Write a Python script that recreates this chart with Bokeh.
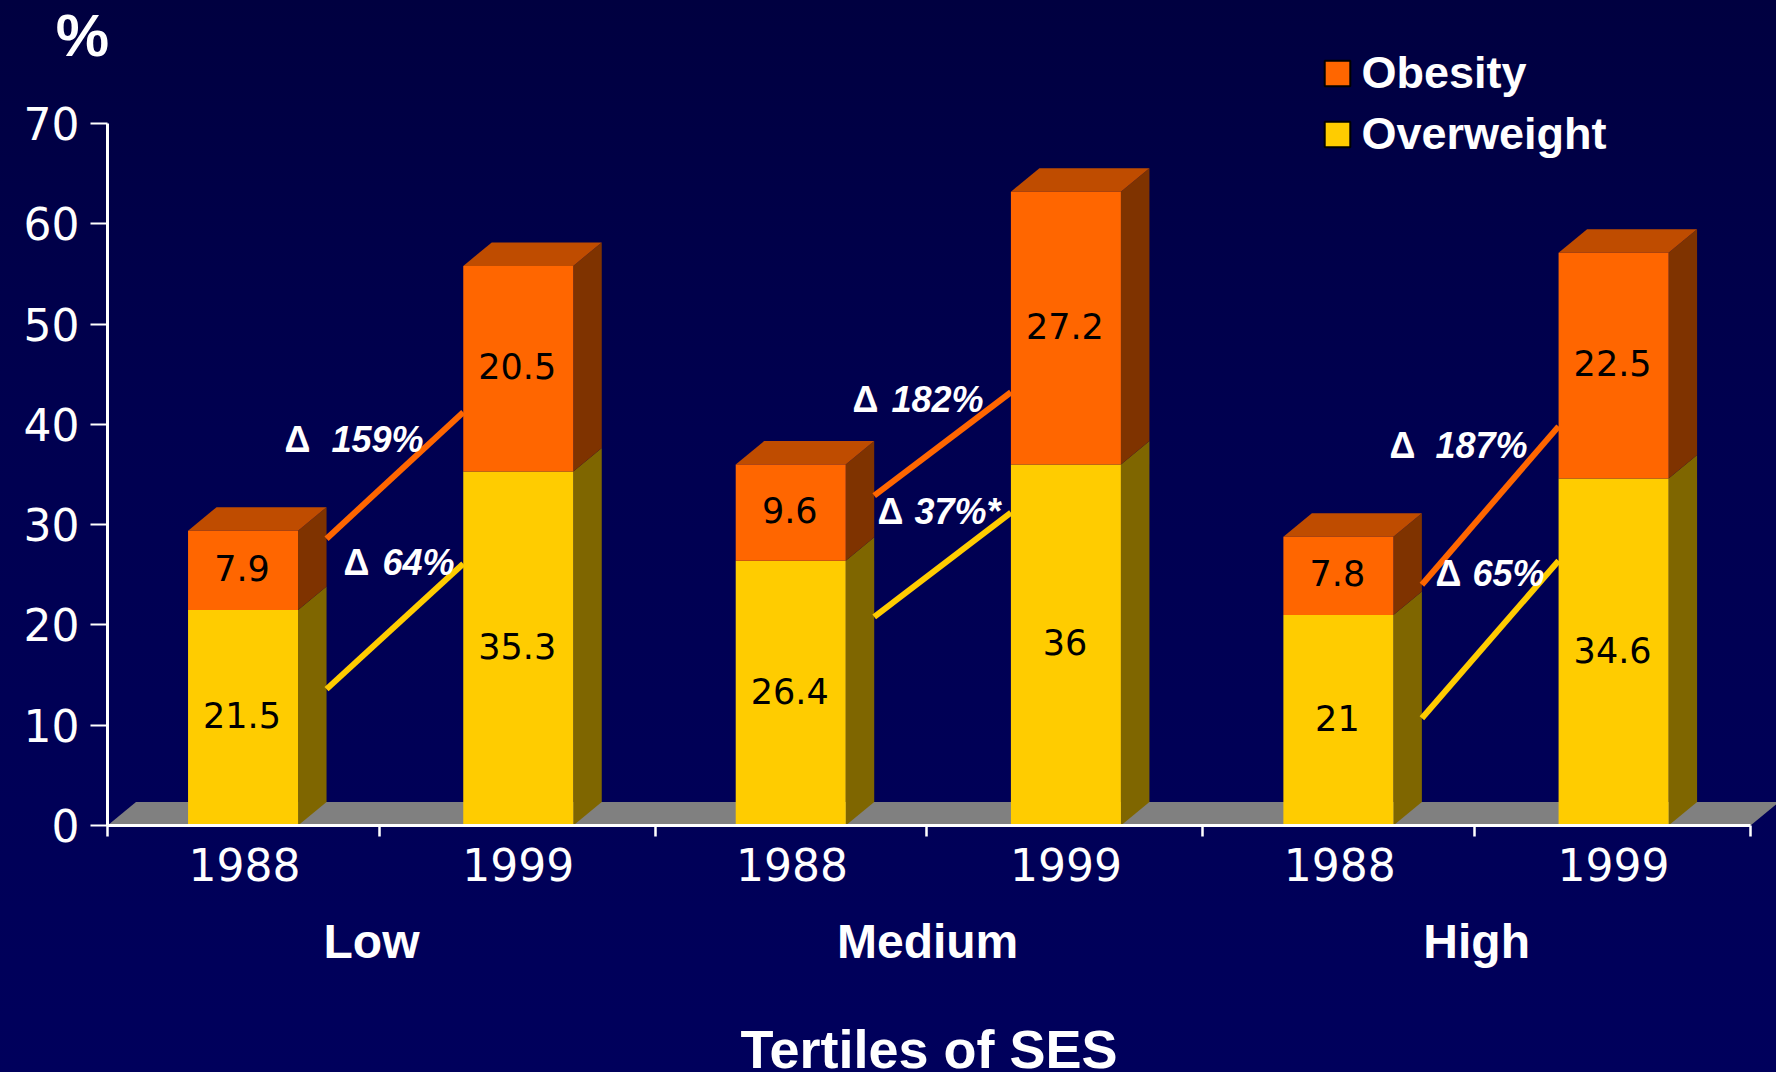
from bokeh.embed import file_html
from bokeh.resources import INLINE
from bokeh.plotting import figure
from bokeh.core.properties import value
from bokeh.models import (Range1d, FixedTicker, Legend, LegendItem, GlobalInlineStyleSheet)

# ---------- data ----------
groups = ["Low", "Medium", "High"]
years = ["1988", "1999", "1988", "1999", "1988", "1999"]
overweight = [21.5, 35.3, 26.4, 36, 21, 34.6]
obesity = [7.9, 20.5, 9.6, 27.2, 7.8, 22.5]
obesity_line_start = [28.6, 32.9, 24.0]
obesity_line_end = [41.2, 43.2, 39.8]
overweight_line_start = [13.6, 20.8, 10.7]
overweight_line_end = [26.1, 31.2, 26.4]
delta_labels = ["159%", "64%", "182%", "37%*", "187%", "65%"]
y_ticks = [0, 10, 20, 30, 40, 50, 60, 70]

# ---------- layout ----------
W, H = 1776, 1072
X0, X6, Y0, Y70 = 107.0, 1750.0, 825.0, 123.0
ux = (X6 - X0) / 6
uy = (Y0 - Y70) / 70
def dx(px): return (px - X0) / ux
def dy(px): return (Y0 - px) / uy

BAR_W = 110 / ux
DEP_X = 28.5 / ux
DEP_Y = 23.5 / uy
ORANGE, ORANGE_SIDE, ORANGE_TOP = "#FF6600", "#7F3300", "#BF4C00"
YELLOW, YELLOW_SIDE = "#FFCC00", "#7F6600"
BG = "linear-gradient(180deg,#000040 0%,#000050 40%,#00005C 100%)"
FONT = "Liberation Sans"
TICK_FONT = "DejaVu Sans"

css = GlobalInlineStyleSheet(css="html,body{margin:0!important;padding:0;background:%s;overflow:hidden}" % BG)

p = figure(width=W, height=H, output_backend="svg", toolbar_location=None,
           x_range=Range1d(dx(0), dx(W)), y_range=Range1d(dy(H), dy(0)),
           min_border=0, min_border_left=0, min_border_right=0, min_border_top=0, min_border_bottom=0)
p.stylesheets = [css]
p.background_fill_color = None
p.border_fill_color = None
p.outline_line_color = None
p.grid.visible = False

centers = [0.495, 1.5, 2.495, 3.5, 4.495, 5.5]
label_ticks = [i + 0.5 for i in range(6)]
divider_ticks = [0, 0.992, 2, 2.992, 4, 4.992, 6]

# floor
p.patch([0, DEP_X, 6 + DEP_X, 6], [0, DEP_Y, DEP_Y, 0], color="#808080", line_width=0)

# 3D bars
left = [c - BAR_W / 2 for c in centers]
right = [c + BAR_W / 2 for c in centers]
tops = [a + b for a, b in zip(overweight, obesity)]

p.patches([[r, r + DEP_X, r + DEP_X, r] for r in right],
          [[0, DEP_Y, v + DEP_Y, v] for v in overweight],
          fill_color=YELLOW_SIDE, line_color=None)
p.patches([[r, r + DEP_X, r + DEP_X, r] for r in right],
          [[o, o + DEP_Y, t + DEP_Y, t] for o, t in zip(overweight, tops)],
          fill_color=ORANGE_SIDE, line_color=None)
p.patches([[l, l + DEP_X, r + DEP_X, r] for l, r in zip(left, right)],
          [[t, t + DEP_Y, t + DEP_Y, t] for t in tops],
          fill_color=ORANGE_TOP, line_color=None)
p.vbar(x=centers, bottom=0, top=overweight, width=BAR_W, fill_color=YELLOW, line_color=None)
p.vbar(x=centers, bottom=overweight, top=tops, width=BAR_W, fill_color=ORANGE, line_color=None)

# connector lines
for i in range(3):
    x_a = right[2 * i] + DEP_X
    x_b = left[2 * i + 1]
    p.line([x_a, x_b], [obesity_line_start[i], obesity_line_end[i]], line_color=ORANGE, line_width=6)
    p.line([x_a, x_b], [overweight_line_start[i], overweight_line_end[i]], line_color=YELLOW, line_width=6)

# value labels
lab_x = centers + centers
lab_y = [v / 2 for v in overweight] + [o + v / 2 for o, v in zip(overweight, obesity)]
lab_t = [str(v) for v in overweight] + [str(v) for v in obesity]
p.text(lab_x, lab_y, text=lab_t, text_color="black", text_align="center", text_baseline="middle",
       x_offset=-1, y_offset=-2.5, text_font=value(TICK_FONT), text_font_size="35px")

# delta annotations
delta_x = [284, 343, 852, 877, 1389, 1435]
pct_x = [331, 382, 891, 914, 1435, 1472]
pct_base = [439, 562, 399, 511, 445, 573]
p.text([dx(v) for v in delta_x], [dy(v) for v in pct_base], text=["Δ"] * 6, text_color="white",
       text_align="left", text_baseline="alphabetic", text_font=value(FONT),
       text_font_style="bold", text_font_size="36px")
p.text([dx(v) for v in pct_x], [dy(v) for v in pct_base], text=delta_labels, text_color="white",
       text_align="left", text_baseline="alphabetic", text_font=value(FONT),
       text_font_style="bold italic", text_font_size="36px")

# group labels
p.text([0.964, 2.995, 5], [dy(941)] * 3, text=groups, text_color="white", text_align="center",
       text_baseline="alphabetic", text_font=value(FONT), text_font_style="bold", text_font_size="48px")
p.text([dx(82)], [dy(35)], text=["%"], text_color="white", text_align="center",
       text_baseline="alphabetic", text_font=value(FONT), text_font_style="bold", text_font_size="60px")

# axes
ya = p.yaxis[0]
ya.fixed_location = 0
ya.bounds = (0, 70)
ya.ticker = FixedTicker(ticks=y_ticks)
ya.axis_line_color = "white"
ya.axis_line_width = 3
ya.major_tick_line_color = "white"
ya.major_tick_line_width = 2
ya.major_tick_in = 0
ya.major_tick_out = 17
ya.minor_tick_line_color = None
ya.major_label_standoff = 11
ya.major_label_text_color = "white"
ya.major_label_text_font = TICK_FONT
ya.major_label_text_font_size = "44px"

xa = p.xaxis[0]
xa.fixed_location = 0
xa.bounds = (0, 6)
xa.ticker = FixedTicker(ticks=label_ticks, minor_ticks=divider_ticks)
xa.major_label_overrides = {c: y for c, y in zip(label_ticks, years)}
xa.axis_line_color = "white"
xa.axis_line_width = 3
xa.major_tick_line_color = None
xa.major_tick_in = 0
xa.major_tick_out = 0
xa.minor_tick_line_color = "white"
xa.minor_tick_line_width = 2.5
xa.minor_tick_in = 0
xa.minor_tick_out = 11
xa.major_label_standoff = 11
xa.major_label_text_color = "white"
xa.major_label_text_font = TICK_FONT
xa.major_label_text_font_size = "44px"
xa.axis_label = "Tertiles of SES"
xa.axis_label_text_color = "white"
xa.axis_label_text_font = FONT
xa.axis_label_text_font_style = "bold"
xa.axis_label_text_font_size = "54px"
xa.axis_label_standoff = 135

# legend
r_ob = p.vbar(x=[float("nan")], bottom=[0], top=[0], width=1, fill_color=ORANGE, line_color="black", line_width=2)
r_ov = p.vbar(x=[float("nan")], bottom=[0], top=[0], width=1, fill_color=YELLOW, line_color="black", line_width=2)
legend = Legend(items=[LegendItem(label="Obesity", renderers=[r_ob]), LegendItem(label="Overweight", renderers=[r_ov])],
                location=(1320.5, 912), orientation="vertical", background_fill_alpha=0, border_line_color=None,
                margin=0, padding=0, spacing=9, glyph_width=32, glyph_height=32, label_standoff=9,
                label_text_color="white", label_text_font=FONT, label_text_font_style="bold",
                label_text_font_size="45px")
p.add_layout(legend, "center")

open("out.html", "w").write(file_html(p, INLINE))
